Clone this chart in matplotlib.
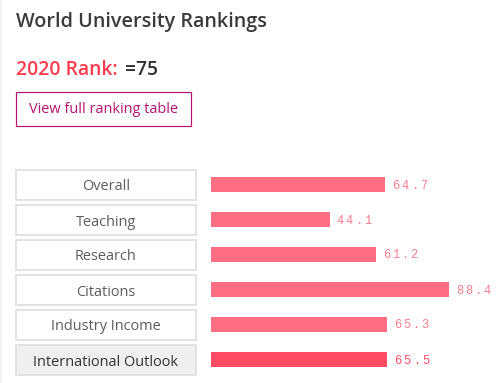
import matplotlib
matplotlib.use("Agg")
import matplotlib.pyplot as plt
from matplotlib.patches import Rectangle

# data
categories = ["Overall", "Teaching", "Research", "Citations",
              "Industry Income", "International Outlook"]
scores = [64.7, 44.1, 61.2, 88.4, 65.3, 65.5]
rank_year = "2020"
rank_value = "=75"
highlight = "International Outlook"

W, H = 503, 383
fig = plt.figure(figsize=(W / 72, H / 72), dpi=72)
fig.patch.set_facecolor("white")

# overlay axes in pixel units for the page furniture
page = fig.add_axes([0, 0, 1, 1])
page.set_xlim(0, W)
page.set_ylim(H, 0)
page.axis("off")

page.add_patch(Rectangle((0, 0), 2, H, facecolor="#f3f3f3", edgecolor="none"))

page.text(16, 27.5, "World University Rankings", fontsize=19.8, family="Open Sans",
          weight="semibold", color="#3b3b3b", va="baseline")
rank_lbl = page.text(16, 75, f"{rank_year} Rank:", fontsize=19.2, family="Open Sans",
                     weight="semibold", color="#ff3b4f", va="baseline")
fig.canvas.draw()
bb = rank_lbl.get_window_extent()
page.text(16 + bb.width + 7, 75, rank_value, fontsize=19.2, family="Open Sans",
          weight="semibold", color="#2f2f2f", va="baseline")

page.add_patch(Rectangle((16.5, 91.5), 175, 34, facecolor="none",
                         edgecolor="#b5146f", lw=1.2))
page.text(104, 113.3, "View full ranking table", fontsize=14.5, family="Open Sans",
          color="#b5146f", va="baseline", ha="center")

# label boxes
row_h = 35
top0 = 169
for i, cat in enumerate(categories):
    y0 = top0 + i * row_h
    hl = cat == highlight
    page.add_patch(Rectangle((16, y0 + 1), 180, 30,
                             facecolor="#efefef" if hl else "white",
                             edgecolor="#e2e2e2", lw=2))
    page.text(106, y0 + 21.5, cat, fontsize=14.5, family="Open Sans",
              color="#333333" if hl else "#5c5c5c", ha="center", va="baseline")

# bars
ax = fig.add_axes([211 / W, (H - 377) / H, 269 / W, 210 / H])
ax.set_xlim(0, 100)
ax.set_ylim(len(categories) - 0.5, -0.5)
ax.axis("off")

colors = ["#ff4b64" if c == highlight else "#ff6e83" for c in categories]
ax.barh(range(len(categories)), scores, height=15 / 35, color=colors)

for i, (v, c) in enumerate(zip(scores, categories)):
    txt_col = "#ff4b64" if c == highlight else "#ff7d90"
    for k, ch in enumerate(f"{v:.1f}"):
        ax.annotate(ch, xy=(v, i), xytext=(7 + k * 9.3, -4), textcoords="offset points",
                    fontsize=12, family="Liberation Mono", color=txt_col,
                    va="baseline", ha="left")

fig.savefig("out.png", dpi=72, facecolor="white")
